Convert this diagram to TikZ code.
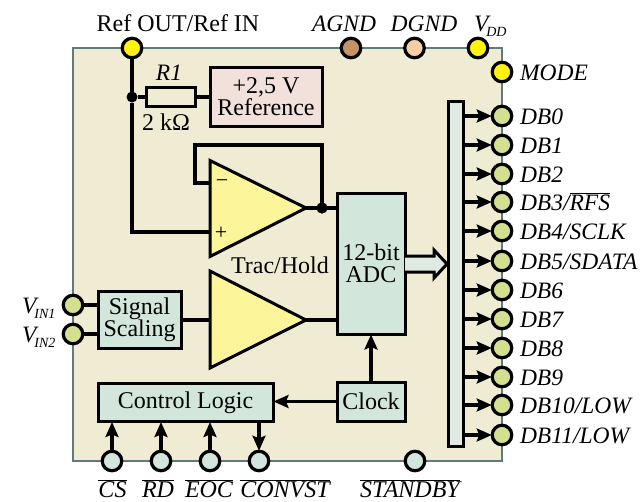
\documentclass[tikz,border=0pt]{standalone}
\usepackage{fontspec}
\setmainfont{Liberation Serif}
\usetikzlibrary{arrows.meta}
\definecolor{chipfill}{HTML}{EFECD3}
\definecolor{chipedge}{HTML}{5E7B7D}
\definecolor{boxfill}{HTML}{D3E6DC}
\definecolor{busfill}{HTML}{DFEAE2}
\definecolor{reffill}{HTML}{F2E0DB}
\definecolor{ampfill}{HTML}{FCF599}
\definecolor{pinyellow}{HTML}{FFF212}
\definecolor{pingreen}{HTML}{D5E08F}
\definecolor{pinbrown}{HTML}{C79266}
\definecolor{pinpeach}{HTML}{F5CFA3}
\newcommand{\ovl}[1]{$\overline{\hbox{\itshape #1}}$}
\newcommand{\subtxt}[1]{\kern-2pt\raisebox{-5pt}{\fontsize{14}{14}\selectfont\itshape #1}}
\tikzset{
  x=1pt,y=-1pt,
  every node/.style={inner sep=0pt,outer sep=0pt,font=\fontsize{24}{24}\selectfont,align=center},
  wire/.style={line width=3.1pt,black},
  arrowwire/.style={wire,-{Stealth[length=15pt,width=13pt,inset=2.5pt]},shorten >=0.5pt},
  blockbox/.style={draw=black,line width=3pt,fill=boxfill,anchor=center},
  pin/.style={circle,draw=black,line width=3.2pt,minimum size=19.5pt,inner sep=0pt},
  lab/.style={anchor=base west,font=\fontsize{23.5}{24}\selectfont\itshape},
  toplab/.style={anchor=base},
  toplabi/.style={anchor=base,font=\fontsize{23.5}{24}\selectfont\itshape},
  dotn/.style={circle,fill=black,minimum size=11pt,inner sep=0pt},
  amp/.style={draw=black,line width=3pt,fill=ampfill,line join=miter},
}
\begin{document}
\begin{tikzpicture}
\useasboundingbox (0,0) rectangle (642,501);
\fill[white] (0,0) rectangle (642,501);
\draw[chipedge,line width=2.4pt,fill=chipfill] (73,48) rectangle (502,461);

% pins
\node[pin,fill=pinyellow] (pref) at (132,48) {};
\node[pin,fill=pinbrown] (pagnd) at (351,48) {};
\node[pin,fill=pinpeach] (pdgnd) at (414.5,48) {};
\node[pin,fill=pinyellow] (pvdd) at (478,48) {};
\node[pin,fill=pinyellow] (pmode) at (502,72) {};
\foreach \n/\y in {0/116,1/145,2/174,3/202,4/231,5/261,6/290,7/319,8/348,9/377,10/405,11/435}
  \node[pin,fill=pingreen] (db\n) at (502,\y) {};
\node[pin,fill=pingreen] (vin1) at (73,305) {};
\node[pin,fill=pingreen] (vin2) at (73,334) {};
\node[pin,fill=boxfill] (pcs) at (112,461) {};
\node[pin,fill=boxfill] (prd) at (161,461) {};
\node[pin,fill=boxfill] (peoc) at (210,461) {};
\node[pin,fill=boxfill] (pconv) at (259,461) {};
\node[pin,fill=boxfill] (pstby) at (415,461) {};

% blocks
\node[draw=black,line width=3pt,fill=chipfill,minimum width=49pt,minimum height=19pt] (res) at (170.5,97) {};
\node[blockbox,fill=reffill,minimum width=112pt,minimum height=59pt] (vref) at (266,97) {+2,5 V\\[-2pt]Reference};
\node[blockbox,minimum width=68pt,minimum height=141pt] (adc) at (371,263.5) {12-bit\\[-2pt]ADC};
\node[blockbox,minimum width=83pt,minimum height=57pt] (scal) at (139.5,319.5) {Signal\\[-2pt]Scaling};
\node[blockbox,minimum width=175pt,minimum height=38pt] (ctrl) at (185.5,402.5) {\raisebox{-2pt}{Control Logic}};
\node[blockbox,minimum width=68pt,minimum height=39pt] (clock) at (371,401.5) {\raisebox{-1pt}{Clock}};
\node[draw=black,line width=3pt,fill=busfill,minimum width=15pt,minimum height=345pt] (bus) at (456,273.5) {};

% amplifiers
\coordinate (a1t) at (210,160.5);
\coordinate (a1o) at (306,208);
\coordinate (a1b) at (210,256.5);
\coordinate (a2t) at (210,271);
\coordinate (a2o) at (306,320);
\coordinate (a2b) at (210,368);
\node[dotn] (j1) at (132,97) {};
\node[dotn] (j2) at (322,208) {};
\coordinate (fbm) at (210,183);
\coordinate (fbp) at (210,232);

\draw[wire] (pref) -- (j1) -- (res);
\draw[wire] (j1) |- (fbp);
\draw[wire] (res) -- (vref);
\draw[wire] (fbm) -| (195,145) -| (j2);
\draw[wire] (a1o) -- (adc.west |- a1o);
\draw[amp] (a1t) -- (a1o) -- (a1b) -- cycle;
\draw[amp] (a2t) -- (a2o) -- (a2b) -- cycle;
\draw[wire] (scal.east |- a2o) -- (a2t |- a2o);
\draw[wire] (a2o) -- (adc.west |- a2o);
\draw[wire] (vin1) -- (scal.west |- vin1);
\draw[wire] (vin2) -- (scal.west |- vin2);
\node at (222,183.5) {\fontsize{22}{22}\selectfont −};
\node at (221,233) {\fontsize{22}{22}\selectfont +};

% redraw junction on top
\node[dotn] at (322,208) {};

% arrows
\draw[arrowwire] (clock.north) -- (adc.south);
\draw[arrowwire] (clock.west) -- (ctrl.east |- clock.west);
\draw[arrowwire] (pcs) -- (ctrl.south -| pcs);
\draw[arrowwire] (prd) -- (ctrl.south -| prd);
\draw[arrowwire] (peoc) -- (ctrl.south -| peoc);
\draw[arrowwire] (ctrl.south -| pconv) -- (pconv);
\foreach \n in {0,...,11}
  \draw[arrowwire] (bus.east |- db\n) -- (db\n);

% hollow bus arrow
\coordinate (hs1) at (405,256);
\coordinate (hs2) at (405,272);
\draw[line width=3pt,fill=busfill,line join=miter] (hs1) -- (434,256) -- (434,250) -- (447,264) -- (434,278) -- (434,272) -- (hs2);

% labels
\node[toplab] (tref) at (178,31) {Ref OUT/Ref IN};
\node[toplabi] (tagnd) at (344,31) {AGND};
\node[toplabi] (tdgnd) at (424,31) {DGND};
\node[lab] (tv) at (474,31) {V\subtxt{DD}};
\node[lab] at (520,80) {MODE};
\node[lab] at (520,124) {DB0};
\node[lab] at (520,153) {DB1};
\node[lab] at (520,182) {DB2};
\node[lab] at (520,210) {DB3/\ovl{RFS}};
\node[lab] at (520,239) {DB4/SCLK};
\node[lab] at (520,269) {DB5/SDATA};
\node[lab] at (520,298) {DB6};
\node[lab] at (520,327) {DB7};
\node[lab] at (520,356) {DB8};
\node[lab] at (520,385) {DB9};
\node[lab] at (520,413) {DB10/LOW};
\node[lab] at (520,443) {DB11/LOW};
\node[toplabi] at (169,80) {R1};
\node[toplab] at (166,130) {2 kΩ};
\node[toplab] at (280,273) {Trac/Hold};
\node[lab] at (22,313) {V\subtxt{IN1}};
\node[lab] at (22,342) {V\subtxt{IN2}};
\node[toplab] at (112.5,497) {\ovl{CS}};
\node[toplab] at (158,497) {\ovl{RD}};
\node[toplab] at (209,497) {\ovl{EOC}};
\node[toplab] at (285,497) {\ovl{CONVST}};
\node[toplab] at (410,497) {\ovl{STANDBY}};
\end{tikzpicture}
\end{document}
